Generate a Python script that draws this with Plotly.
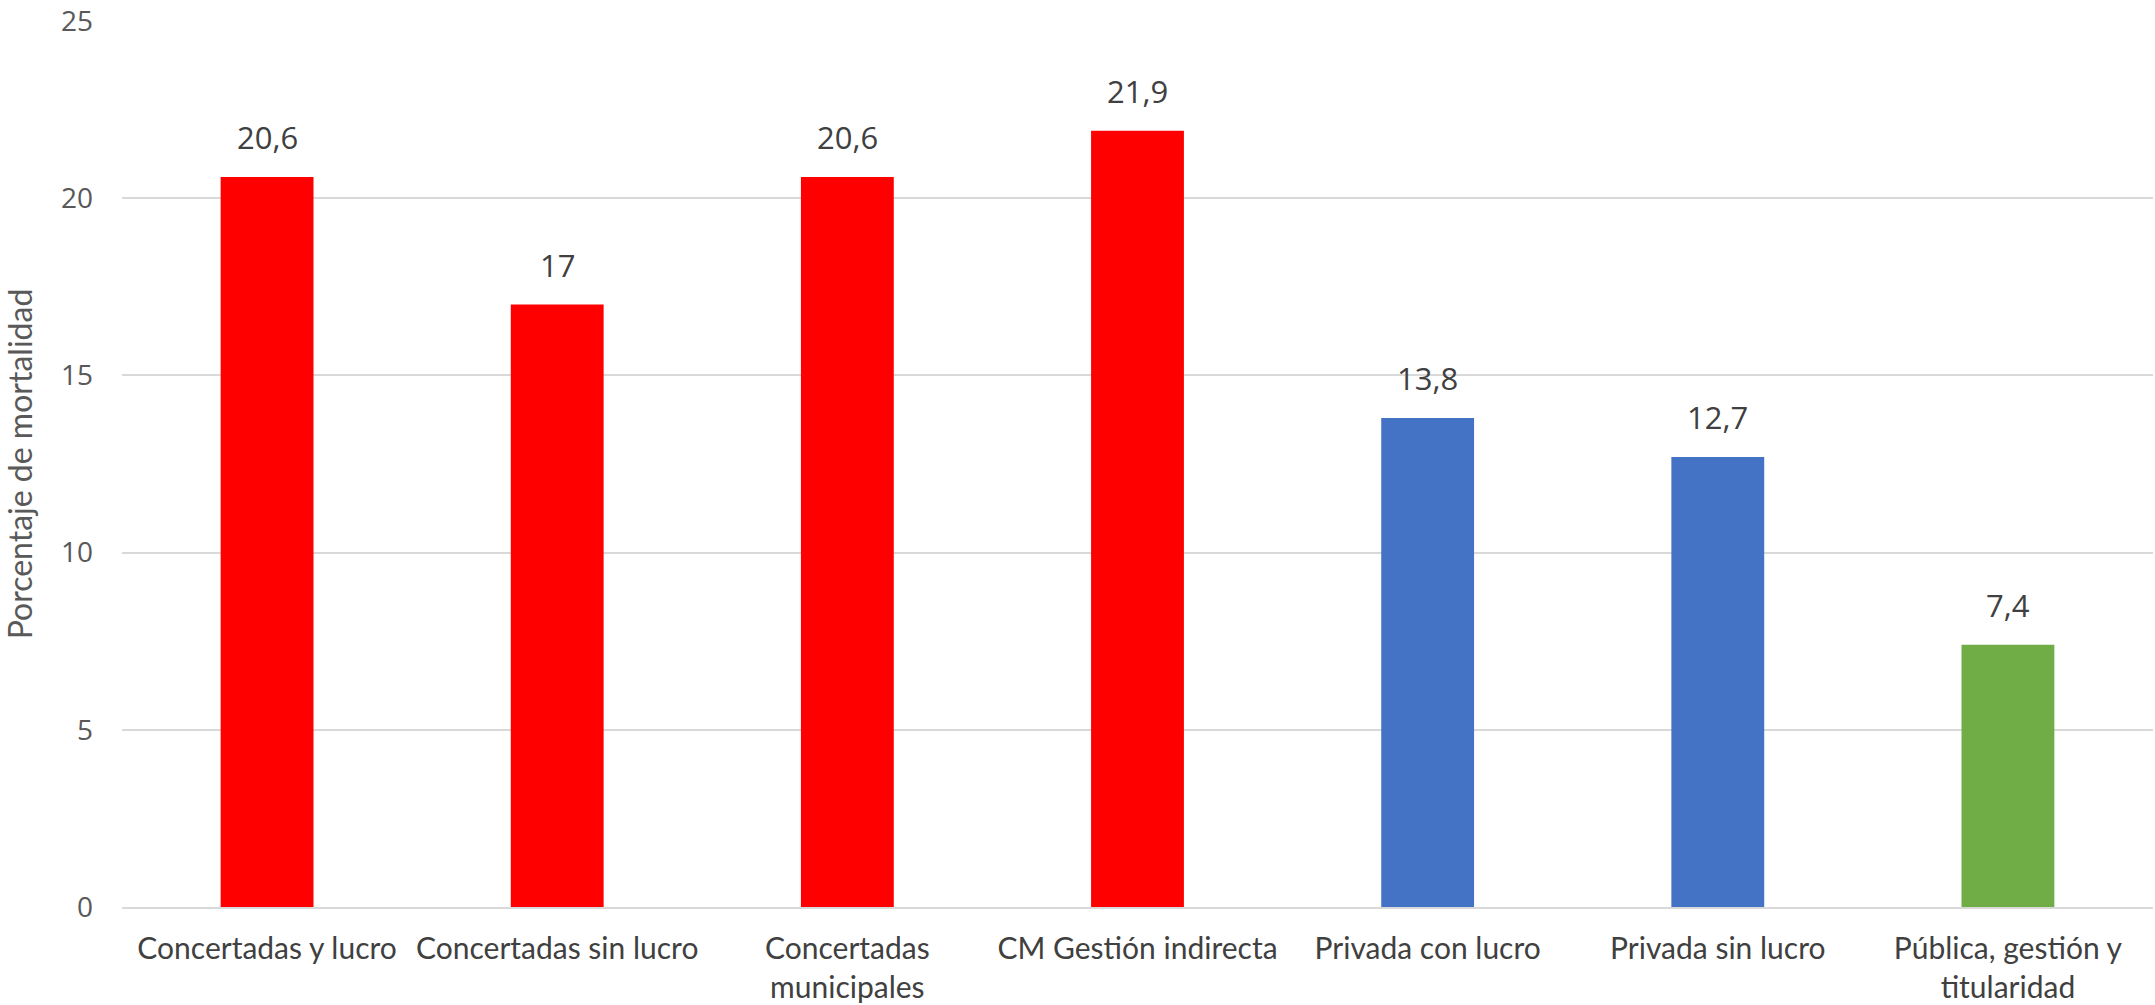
import plotly.graph_objects as go

categories = ["Concertadas y lucro", "Concertadas sin lucro", "Concertadas<br>municipales",
              "CM Gestión indirecta", "Privada con lucro", "Privada sin lucro",
              "Pública, gestión y<br>titularidad"]
values = [20.6, 17, 20.6, 21.9, 13.8, 12.7, 7.4]
labels = ["20,6", "17", "20,6", "21,9", "13,8", "12,7", "7,4"]
colors = ["#FF0000", "#FF0000", "#FF0000", "#FF0000", "#4472C4", "#4472C4", "#70AD47"]
y_ticks = [0, 5, 10, 15, 20, 25]

FONT = "Lato, 'Open Sans', sans-serif"
NUMFONT = "'Open Sans', sans-serif"

fig = go.Figure(go.Bar(
    x=categories, y=values, marker=dict(color=colors, line=dict(width=0)),
    hoverinfo="x+y",
))

for c, v, t in zip(categories, values, labels):
    fig.add_annotation(x=c, y=v, text=t, showarrow=False, yanchor="middle", yshift=40,
                       font=dict(size=31, color="#404040", family=NUMFONT))

fig.update_layout(
    width=2155, height=1005,
    margin=dict(l=122, r=2, t=21, b=98, autoexpand=False),
    paper_bgcolor="white", plot_bgcolor="white",
    separators=",.",
    bargap=0.68,
    showlegend=False,
    font=dict(family=FONT, color="#595959"),
    xaxis=dict(tickfont=dict(size=30, color="#404040"), showline=True, linecolor="#D9D9D9",
               linewidth=2, ticks="", showgrid=False, ticklabelstandoff=14, automargin=False),
    yaxis=dict(range=[0, 25], tickvals=y_ticks, showgrid=True, gridcolor="#D9D9D9", gridwidth=1.5,
               zeroline=False, tickfont=dict(size=28, color="#595959", family=NUMFONT), ticks="",
               ticklabelstandoff=28, automargin=False,
               title=dict(text="Porcentaje de mortalidad", font=dict(size=32, color="#595959"), standoff=18)),
)

fig.write_html("out.html")
